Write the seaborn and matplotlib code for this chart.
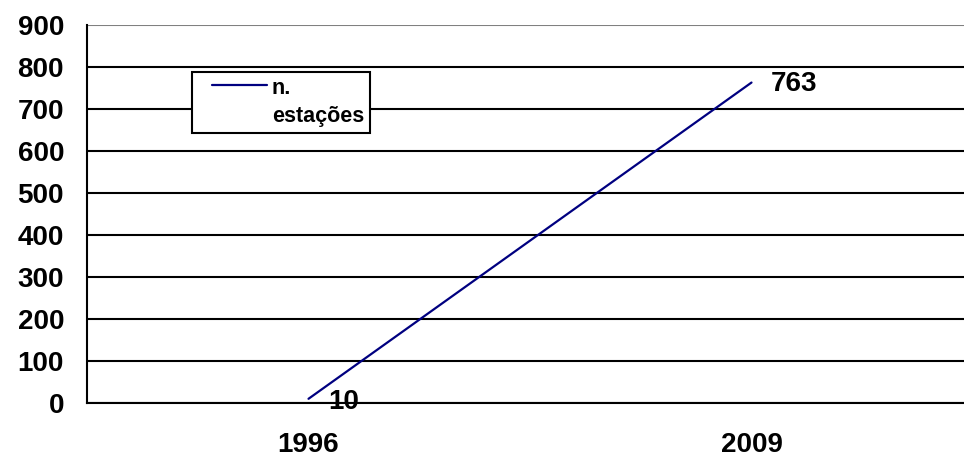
import matplotlib
matplotlib.use("Agg")
import matplotlib.pyplot as plt
import numpy as np
import pandas as pd
import seaborn as sns

years = ["1996", "2009"]
estacoes = [10, 763]
y_ticks = [0, 100, 200, 300, 400, 500, 600, 700, 800, 900]
series_name = "n.\nestações"

sns.set_style("white")
plt.rcParams['font.family'] = ['Liberation Sans', 'DejaVu Sans']
plt.rcParams['font.weight'] = 'bold'
plt.rcParams['text.color'] = 'black'
plt.rcParams['xtick.color'] = 'black'
plt.rcParams['ytick.color'] = 'black'

df = pd.DataFrame({"ano": years, "valor": estacoes})

fig = plt.figure(figsize=(9.64, 4.61), dpi=100)
ax = fig.add_axes([87 / 964, 1 - 403 / 461, 886 / 964, 378 / 461])

pos = list(range(len(years)))
sns.lineplot(x=pos, y=df["valor"], ax=ax, color="#000080", linewidth=1.6,
             label=series_name, legend=False)

# gridlines
for t in y_ticks:
    ax.axhline(t, color="#808080" if t == y_ticks[-1] else "black", lw=1.5, zorder=0)

ax.set_xlim(-0.5, len(years) - 0.5)
ax.set_ylim(0, 900)
ax.set_yticks(y_ticks)
ax.set_yticklabels([str(t) for t in y_ticks], fontsize=20, fontweight='bold')
ax.set_xticks([p - 0.5 for p in pos] + [len(years) - 0.5])
ax.set_xticklabels([])
ax.set_xticks(pos, minor=True)
ax.set_xticklabels(years, minor=True, fontsize=20, fontweight='bold')
ax.tick_params(axis='x', which='minor', length=0, pad=21)
ax.tick_params(axis='both', which='major', length=7.5, width=1.5, color="black",
               direction='out')
ax.tick_params(axis='y', pad=9)
ax.set_xlabel("")
ax.set_ylabel("")

for s in ["top", "right"]:
    ax.spines[s].set_visible(False)
for s in ["left", "bottom"]:
    ax.spines[s].set_color("black")
    ax.spines[s].set_linewidth(1.5)

# data labels
ax.annotate(str(estacoes[0]), (pos[0], estacoes[0]), xytext=(14, -2),
            textcoords='offset points', fontsize=20, fontweight='bold', va='center')
ax.annotate(str(estacoes[1]), (pos[1], estacoes[1]), xytext=(14, -1),
            textcoords='offset points', fontsize=20, fontweight='bold', va='center')

leg = ax.legend(loc='upper left', bbox_to_anchor=(192 / 964, 1 - 72 / 461),
                bbox_transform=fig.transFigure, frameon=True, fancybox=False,
                framealpha=1, edgecolor="black", handlelength=3.2, handletextpad=0.2,
                borderpad=0.3, borderaxespad=0, prop={'size': 15.5, 'weight': 'bold'})
leg.get_frame().set_linewidth(1.5)
for t in leg.get_texts():
    t.set_linespacing(1.4)
# legend line sits next to the first text line, with a gap at its left
fig.canvas.draw()
hl = leg.get_lines()[0]
yd = np.asarray(hl.get_ydata(), dtype=float)
xd = np.asarray(hl.get_xdata(), dtype=float)
hl.set_ydata(yd + 13)
hl.set_xdata(np.where(xd == xd.min(), xd.min() + 10, xd))

fig.savefig("out.png", dpi=100)
